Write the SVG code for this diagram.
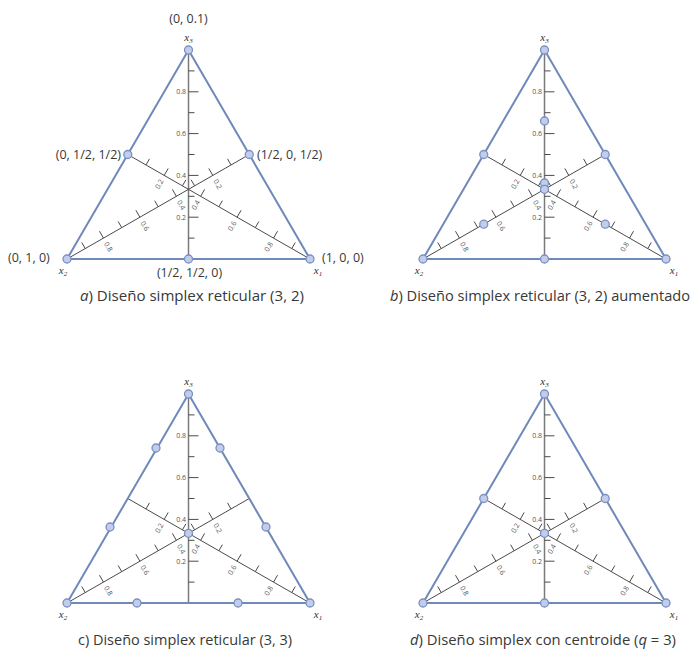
<svg xmlns="http://www.w3.org/2000/svg" xmlns:xlink="http://www.w3.org/1999/xlink" width="692" height="657" viewBox="0 0 692 657">
<style>
.tri{fill:none;stroke:#6f89b9;stroke-width:2;stroke-linejoin:round}
.med{fill:none;stroke:#4a4a4a;stroke-width:1}
.axis{fill:none;stroke:#7a7a7a;stroke-width:1.5}
.tick{fill:none;stroke:#4a4a4a;stroke-width:1}
.tl{font-family:"Open Sans","Liberation Sans",sans-serif;font-size:7px;fill:#555}
.pt{fill:#c3cdea;stroke:#7990c4;stroke-width:1.3}
.lab{font-family:"Open Sans","Liberation Sans",sans-serif;font-size:12.5px;fill:#383838}
.xv{font-family:"Liberation Serif",serif;font-style:italic;font-size:11px;fill:#333}
.cap{font-family:"Open Sans","Liberation Sans",sans-serif;font-size:14.5px;fill:#383838}
</style>
<defs>
<g id="simplex">
<line class="axis" x1="121.5" y1="209" x2="121.5" y2="0"/>
<path class="tick" d="M121.5,188.1h6M121.5,167.2h10M121.5,146.3h6M121.5,125.4h10M121.5,104.5h6M121.5,83.6h10M121.5,62.7h6M121.5,41.8h10M121.5,20.9h6"/>
<text class="tl" text-anchor="end" x="119" y="169.7">0.2</text>
<text class="tl" text-anchor="end" x="119" y="127.9">0.4</text>
<text class="tl" text-anchor="end" x="119" y="86.1">0.6</text>
<text class="tl" text-anchor="end" x="119" y="44.3">0.8</text>
<line class="med" x1="0" y1="209" x2="182.25" y2="104.5"/>
<line class="med" x1="243" y1="209" x2="60.75" y2="104.5"/>
<path class="tick" d="M18.23,198.55l-3.48,-6.08M36.45,188.1l-3.98,-6.94M54.68,177.65l-3.48,-6.08M72.9,167.2l-3.98,-6.94M91.13,156.75l-3.48,-6.08M109.35,146.3l-3.98,-6.94M127.58,135.85l-3.48,-6.08M145.8,125.4l-3.98,-6.94M164.03,114.95l-3.48,-6.08"/>
<path class="tick" d="M224.78,198.55l3.48,-6.08M206.55,188.1l3.98,-6.94M188.33,177.65l3.48,-6.08M170.1,167.2l3.98,-6.94M151.88,156.75l3.48,-6.08M133.65,146.3l3.98,-6.94M115.43,135.85l3.48,-6.08M97.2,125.4l3.98,-6.94M78.98,114.95l3.48,-6.08"/>
<text class="tl" text-anchor="middle" transform="translate(41.4,196.8) rotate(60)" dy="2.5">0.8</text>
<text class="tl" text-anchor="middle" transform="translate(77.9,175.9) rotate(60)" dy="2.5">0.6</text>
<text class="tl" text-anchor="middle" transform="translate(114.3,155) rotate(60)" dy="2.5">0.4</text>
<text class="tl" text-anchor="middle" transform="translate(150.8,134.1) rotate(60)" dy="2.5">0.2</text>
<text class="tl" text-anchor="middle" transform="translate(201.6,196.8) rotate(-60)" dy="2.5">0.8</text>
<text class="tl" text-anchor="middle" transform="translate(165.1,175.9) rotate(-60)" dy="2.5">0.6</text>
<text class="tl" text-anchor="middle" transform="translate(128.7,155) rotate(-60)" dy="2.5">0.4</text>
<text class="tl" text-anchor="middle" transform="translate(92.2,134.1) rotate(-60)" dy="2.5">0.2</text>
<polygon class="tri" points="0,209 243,209 121.5,0"/>
</g>
</defs>

<g id="connectors">
<use xlink:href="#simplex" href="#simplex" transform="translate(67,50)"/>
<use xlink:href="#simplex" href="#simplex" transform="translate(423,50)"/>
<use xlink:href="#simplex" href="#simplex" transform="translate(67,394)"/>
<use xlink:href="#simplex" href="#simplex" transform="translate(423,394)"/>
</g>

<g id="panel-a">
<circle class="pt" cx="67" cy="259" r="4"/>
<circle class="pt" cx="310" cy="259" r="4"/>
<circle class="pt" cx="188.5" cy="50" r="4"/>
<circle class="pt" cx="127.75" cy="154.5" r="4"/>
<circle class="pt" cx="249.25" cy="154.5" r="4"/>
<circle class="pt" cx="188.5" cy="259" r="4"/>
<text class="lab" x="188.5" y="23" text-anchor="middle">(0, 0.1)</text>
<text class="xv" x="188.5" y="41" text-anchor="middle">x<tspan font-size="7" dy="2">3</tspan></text>
<text class="lab" x="121" y="158.5" text-anchor="end">(0, 1/2, 1/2)</text>
<text class="lab" x="257" y="158.5">(1/2, 0, 1/2)</text>
<text class="lab" x="8" y="262">(0, 1, 0)</text>
<text class="lab" x="322" y="262">(1, 0, 0)</text>
<text class="lab" x="189.5" y="277" text-anchor="middle">(1/2, 1/2, 0)</text>
<text class="xv" x="63" y="274" text-anchor="middle">x<tspan font-size="7" dy="2">2</tspan></text>
<text class="xv" x="318" y="274" text-anchor="middle">x<tspan font-size="7" dy="2">1</tspan></text>
<text class="cap" x="80" y="301" textLength="224" lengthAdjust="spacingAndGlyphs"><tspan font-style="italic">a</tspan>) Diseño simplex reticular (3, 2)</text>
</g>

<g id="panel-b">
<circle class="pt" cx="423" cy="259" r="4"/>
<circle class="pt" cx="666" cy="259" r="4"/>
<circle class="pt" cx="544.5" cy="50" r="4"/>
<circle class="pt" cx="483.75" cy="154.5" r="4"/>
<circle class="pt" cx="605.25" cy="154.5" r="4"/>
<circle class="pt" cx="544.5" cy="259" r="4"/>
<circle class="pt" cx="544.5" cy="121" r="4"/>
<circle class="pt" cx="483.75" cy="224.2" r="4"/>
<circle class="pt" cx="605.25" cy="224.2" r="4"/>
<circle class="pt" cx="544.5" cy="183" r="4"/>
<circle class="pt" cx="544.5" cy="189.3" r="4"/>
<text class="xv" x="544.5" y="41" text-anchor="middle">x<tspan font-size="7" dy="2">3</tspan></text>
<text class="xv" x="419" y="274" text-anchor="middle">x<tspan font-size="7" dy="2">2</tspan></text>
<text class="xv" x="674" y="274" text-anchor="middle">x<tspan font-size="7" dy="2">1</tspan></text>
<text class="cap" x="390" y="301" textLength="300" lengthAdjust="spacingAndGlyphs"><tspan font-style="italic">b</tspan>) Diseño simplex reticular (3, 2) aumentado</text>
</g>

<g id="panel-c">
<circle class="pt" cx="67" cy="603" r="4"/>
<circle class="pt" cx="310" cy="603" r="4"/>
<circle class="pt" cx="188.5" cy="394" r="4"/>
<circle class="pt" cx="137" cy="603" r="4"/>
<circle class="pt" cx="238" cy="603" r="4"/>
<circle class="pt" cx="110" cy="527" r="4"/>
<circle class="pt" cx="156" cy="448" r="4"/>
<circle class="pt" cx="266" cy="527" r="4"/>
<circle class="pt" cx="220" cy="448" r="4"/>
<circle class="pt" cx="188.5" cy="533.3" r="4"/>
<text class="xv" x="188.5" y="385" text-anchor="middle">x<tspan font-size="7" dy="2">3</tspan></text>
<text class="xv" x="63" y="618" text-anchor="middle">x<tspan font-size="7" dy="2">2</tspan></text>
<text class="xv" x="318" y="618" text-anchor="middle">x<tspan font-size="7" dy="2">1</tspan></text>
<text class="cap" x="78" y="645" textLength="214" lengthAdjust="spacingAndGlyphs">c) Diseño simplex reticular (3, 3)</text>
</g>

<g id="panel-d">
<circle class="pt" cx="423" cy="603" r="4"/>
<circle class="pt" cx="666" cy="603" r="4"/>
<circle class="pt" cx="544.5" cy="394" r="4"/>
<circle class="pt" cx="483.75" cy="498.5" r="4"/>
<circle class="pt" cx="605.25" cy="498.5" r="4"/>
<circle class="pt" cx="544.5" cy="603" r="4"/>
<circle class="pt" cx="544.5" cy="533.3" r="4"/>
<text class="xv" x="544.5" y="385" text-anchor="middle">x<tspan font-size="7" dy="2">3</tspan></text>
<text class="xv" x="419" y="618" text-anchor="middle">x<tspan font-size="7" dy="2">2</tspan></text>
<text class="xv" x="674" y="618" text-anchor="middle">x<tspan font-size="7" dy="2">1</tspan></text>
<text class="cap" x="410" y="645" textLength="266" lengthAdjust="spacingAndGlyphs"><tspan font-style="italic">d</tspan>) Diseño simplex con centroide (<tspan font-style="italic">q</tspan> = 3)</text>
</g>
</svg>
